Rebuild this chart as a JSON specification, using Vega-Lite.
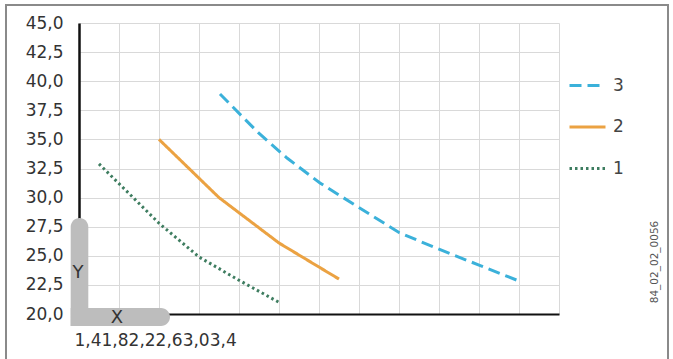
{
  "$schema": "https://vega.github.io/schema/vega-lite/v6.json",
  "width": 480,
  "height": 291,
  "autosize": {"type": "none"},
  "padding": {"left": 79, "top": 23, "right": 114, "bottom": 45},
  "background": "white",
  "config": {
    "font": "DejaVu Sans",
    "view": {"stroke": null}
  },
  "encoding": {
    "x": {
      "field": "x", "type": "quantitative",
      "scale": {"domain": [1.0, 3.4], "nice": false, "zero": false},
      "axis": {
        "values": [1.0, 1.2, 1.4, 1.6, 1.8, 2.0, 2.2, 2.4, 2.6, 2.8, 3.0, 3.2, 3.4],
        "labels": false, "ticks": false,
        "grid": true, "gridColor": "#d9d9d9", "gridWidth": 1,
        "domainColor": "#111111", "domainWidth": 2,
        "title": "1,41,82,22,63,03,4",
        "titleFont": "DejaVu Sans", "titleFontSize": 17, "titleFontWeight": "normal",
        "titleColor": "#333333", "titleAnchor": "start", "titleAlign": "left",
        "titleX": -5, "titleY": 31, "titleBaseline": "alphabetic"
      }
    },
    "y": {
      "field": "y", "type": "quantitative",
      "scale": {"domain": [20, 45], "nice": false, "zero": false},
      "axis": {
        "values": [20, 22.5, 25, 27.5, 30, 32.5, 35, 37.5, 40, 42.5, 45],
        "labelExpr": "replace(format(datum.value, '.1f'), '.', ',')",
        "ticks": false, "labelPadding": 16,
        "labelFontSize": 17, "labelColor": "#333333",
        "grid": true, "gridColor": "#d9d9d9", "gridWidth": 1,
        "domainColor": "#111111", "domainWidth": 2.5,
        "title": null
      }
    }
  },
  "layer": [
    {
      "data": {"values": [{"x": 0.635, "x2": 3.945, "y": 46.55, "y2": 15.19}]},
      "mark": {"type": "rect", "fill": null, "stroke": "#8a8a8a", "strokeWidth": 2},
      "encoding": {"x2": {"field": "x2"}, "y2": {"field": "y2"}}
    },
    {
      "data": {"values": [
        {"s": "1", "x": 1.1, "y": 32.9},
        {"s": "1", "x": 1.4, "y": 27.8},
        {"s": "1", "x": 1.6, "y": 24.9},
        {"s": "1", "x": 1.8, "y": 22.9},
        {"s": "1", "x": 2.0, "y": 21.0},
        {"s": "2", "x": 1.4, "y": 35.0},
        {"s": "2", "x": 1.7, "y": 30.0},
        {"s": "2", "x": 2.0, "y": 26.1},
        {"s": "2", "x": 2.3, "y": 23.0},
        {"s": "3", "x": 1.705, "y": 38.9},
        {"s": "3", "x": 1.895, "y": 35.6},
        {"s": "3", "x": 2.04, "y": 33.4},
        {"s": "3", "x": 2.205, "y": 31.25},
        {"s": "3", "x": 2.395, "y": 29.2},
        {"s": "3", "x": 2.6, "y": 27.0},
        {"s": "3", "x": 2.795, "y": 25.6},
        {"s": "3", "x": 3.0, "y": 24.2},
        {"s": "3", "x": 3.205, "y": 22.8}
      ]},
      "mark": {"type": "line", "strokeWidth": 3, "strokeCap": "butt"},
      "encoding": {
        "color": {
          "field": "s", "type": "nominal",
          "scale": {"domain": ["3", "2", "1"], "range": ["#3bb1da", "#eba242", "#3e7d60"]},
          "legend": {
            "title": null, "orient": "none", "legendX": 489, "legendY": 43,
            "symbolType": "stroke", "symbolSize": 1296, "symbolStrokeWidth": 3,
            "labelFontSize": 17, "labelColor": "#444444", "labelOffset": 6,
            "rowPadding": 13.5, "padding": 0
          }
        },
        "strokeDash": {
          "field": "s", "type": "nominal",
          "scale": {"domain": ["3", "2", "1"], "range": [[12, 6], [1, 0], [2.5, 3]]},
          "legend": {
            "title": null, "orient": "none", "legendX": 489, "legendY": 43,
            "symbolType": "stroke", "symbolSize": 1296, "symbolStrokeWidth": 3,
            "labelFontSize": 17, "labelColor": "#444444", "labelOffset": 6,
            "rowPadding": 13.5, "padding": 0
          }
        },
        "detail": {"field": "s"}
      }
    },
    {
      "data": {"values": [{"x": 0.9585, "x2": 1.0465, "y": 28.25, "y2": 18.97}]},
      "mark": {"type": "rect", "color": "#bdbdbd", "cornerRadiusTopLeft": 9, "cornerRadiusTopRight": 9},
      "encoding": {"x2": {"field": "x2"}, "y2": {"field": "y2"}}
    },
    {
      "data": {"values": [{"x": 0.9585, "x2": 1.455, "y": 20.52, "y2": 18.97}]},
      "mark": {"type": "rect", "color": "#bdbdbd", "cornerRadiusTopRight": 9, "cornerRadiusBottomRight": 9},
      "encoding": {"x2": {"field": "x2"}, "y2": {"field": "y2"}}
    },
    {
      "data": {"values": [
        {"x": 0.995, "y": 23.52, "t": "Y"},
        {"x": 1.19, "y": 19.66, "t": "X"}
      ]},
      "mark": {"type": "text", "fontSize": 18, "color": "#333333", "align": "center", "baseline": "middle"},
      "encoding": {"text": {"field": "t"}}
    },
    {
      "data": {"values": [{"x": 3.88, "y": 24.47, "t": "84_02_02_0056"}]},
      "mark": {"type": "text", "fontSize": 10.5, "color": "#555555", "angle": 270, "align": "center", "baseline": "middle"},
      "encoding": {"text": {"field": "t"}}
    }
  ]
}
